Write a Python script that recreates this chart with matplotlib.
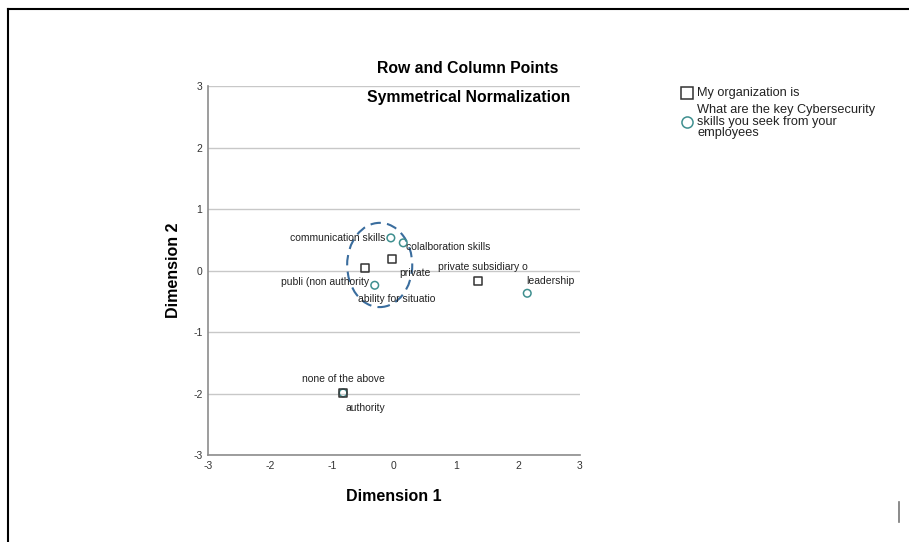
import matplotlib
matplotlib.use("Agg")
import matplotlib.pyplot as plt
from matplotlib.patches import Ellipse
from matplotlib.lines import Line2D

plt.rcParams['font.family'] = ['Liberation Sans', 'DejaVu Sans']
plt.rcParams['axes.unicode_minus'] = False

# row points: My organization is
row_labels = ["private", "publi (non authority", "private subsidiary o", "authority"]
row_x = [-0.03, -0.47, 1.35, -0.82]
row_y = [0.19, 0.04, -0.17, -1.99]

# column points: key cybersecurity skills
col_labels = ["communication skills", "colalboration skills", "ability for situatio",
              "leadership", "none of the above"]
col_x = [-0.05, 0.15, -0.31, 2.15, -0.82]
col_y = [0.53, 0.45, -0.24, -0.37, -1.99]

ticks = [-3, -2, -1, 0, 1, 2, 3]

legend_labels = ["My organization is",
                 "What are the key Cybersecurity\nskills you seek from your\nemployees"]

# label offsets in points (placement only)
row_off = [((5, -10), 'left'), ((3, -10), 'right'), ((4, 10), 'center'), ((2, -11), 'left')]
col_off = [((-4, 0), 'right'), ((2, -3), 'left'), ((-12, -10), 'left'),
           ((-1, 9), 'left'), ((0, 10), 'center')]

fig = plt.figure(figsize=(9.09, 5.42), dpi=100)
ax = fig.add_axes([0.2288, 0.1605, 0.4092, 0.6808])

for t in ticks:
    ax.axhline(t, color='#c8c8c8', lw=1, zorder=0)

ax.scatter(col_x, col_y, marker='o', s=30, facecolors='none', edgecolors='#3f8f8f',
           linewidths=1.1, zorder=3)
ax.scatter(row_x, row_y, marker='s', s=34, facecolors='none', edgecolors='#333333',
           linewidths=1.1, zorder=4)

for lab, x, y, (off, ha) in zip(row_labels, row_x, row_y, row_off):
    ax.annotate(lab, (x, y), xytext=off, textcoords='offset points', ha=ha,
                va='center', fontsize=7.5, color='#222222')
for lab, x, y, (off, ha) in zip(col_labels, col_x, col_y, col_off):
    ax.annotate(lab, (x, y), xytext=off, textcoords='offset points', ha=ha,
                va='center', fontsize=7.5, color='#222222')

ax.add_patch(Ellipse((-0.23, 0.09), 1.05, 1.37, fill=False, ls=(0, (5, 3)),
                     lw=1.5, edgecolor='#3a6d9e', zorder=2))

ax.set_xlim(-3, 3)
ax.set_ylim(-3, 3)
ax.set_xticks(ticks)
ax.set_yticks(ticks)
ax.tick_params(length=0, labelsize=7.5, labelcolor='#333333', pad=4)
for s in ['top', 'right']:
    ax.spines[s].set_visible(False)
for s in ['left', 'bottom']:
    ax.spines[s].set_color('#8c8c8c')
    ax.spines[s].set_linewidth(1.2)

ax.set_xlabel("Dimension 1", fontsize=11.5, fontweight='bold', labelpad=13)
ax.set_ylabel("Dimension 2", fontsize=11.5, fontweight='bold', labelpad=9)

fig.text(0.514, 0.874, "Row and Column Points", ha='center', va='center',
         fontsize=11.3, fontweight='bold')
fig.text(0.516, 0.821, "Symmetrical Normalization", ha='center', va='center',
         fontsize=11.3, fontweight='bold')

# legend, drawn by hand to match spacing
fig.add_artist(Line2D([0.7558], [0.829], marker='s', ls='none', markersize=8,
                      markerfacecolor='none', markeredgecolor='#333333', markeredgewidth=1.1))
fig.add_artist(Line2D([0.7558], [0.775], marker='o', ls='none', markersize=8,
                      markerfacecolor='none', markeredgecolor='#3f8f8f', markeredgewidth=1.1))
fig.text(0.767, 0.828, legend_labels[0], ha='left', va='center', fontsize=9.2,
         color='#222222')
for i, line in enumerate(legend_labels[1].split("\n")):
    fig.text(0.767, 0.797 - i * 0.0215, line, ha='left', va='center', fontsize=9.2,
             color='#222222')

# page frame
fig.add_artist(Line2D([0.009, 0.009], [0, 0.983], color='black', lw=1.5))
fig.add_artist(Line2D([0.009, 1], [0.983, 0.983], color='black', lw=1.5))
fig.add_artist(Line2D([0.989, 0.989], [0.037, 0.074], color='#777777', lw=1.2))

fig.savefig("out.png", dpi=100)
